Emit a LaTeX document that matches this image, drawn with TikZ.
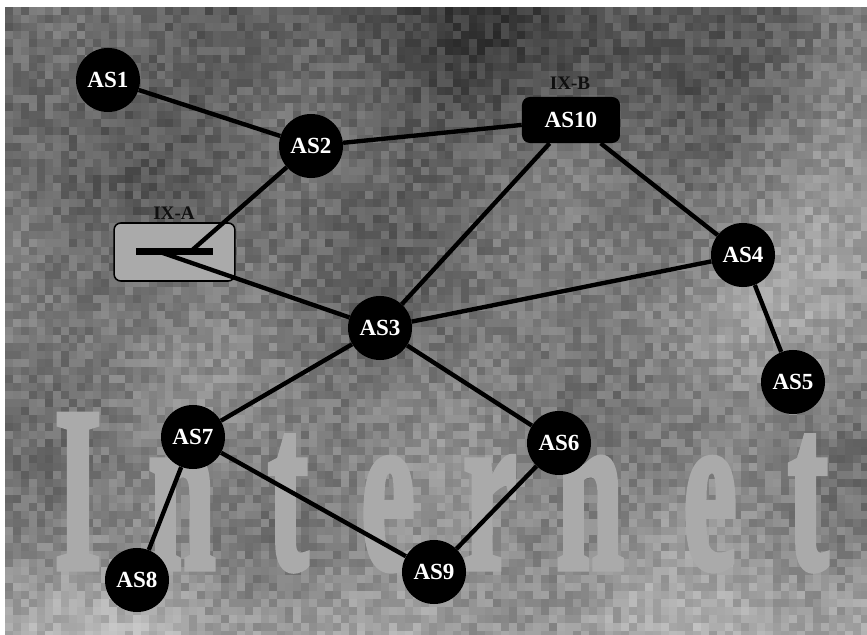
\documentclass[tikz,border=0pt]{standalone}
\usepackage{fontspec}
\setmainfont{Liberation Serif}
\newfontfamily\wordfont[BoldFeatures={FakeBold=3}]{Liberation Serif}
\usepackage{graphicx}
\definecolor{ixgray}{RGB}{170,170,170}
\definecolor{wordgray}{RGB}{170,170,170}
\definecolor{labelink}{RGB}{15,15,15}
\pgfdeclarelayer{bg}
\pgfdeclarelayer{links}
\pgfsetlayers{bg,links,main}

\begin{document}
\begin{tikzpicture}[x=0.025cm,y=-0.025cm,
  as/.style={circle,fill=black,minimum size=1.6cm,inner sep=0pt,
    text=white,font=\fontsize{16.4}{18}\selectfont\bfseries},
  asbox/.style={rectangle,rounded corners=0.2cm,fill=black,minimum width=2.45cm,
    minimum height=1.15cm,inner sep=0pt,text=white,font=\fontsize{16.4}{18}\selectfont\bfseries},
  ixbox/.style={rectangle,rounded corners=0.17cm,fill=ixgray,draw=black,line width=1.1pt,
    minimum width=3.02cm,minimum height=1.45cm,inner sep=0pt},
  ixlabel/.style={text=labelink,inner sep=0pt,font=\fontsize{13.6}{15}\selectfont\bfseries},
  letter/.style={anchor=base,inner sep=0pt,text=wordgray,font=\wordfont\fontsize{166}{170}\selectfont\bfseries},
  link/.style={line width=3.1pt}]
  \useasboundingbox (0,0) rectangle (867,635);

  % Grainy backdrop and the big word
  \begin{pgfonlayer}{bg}
    \fill[white] (0,0) rectangle (867,635);
    \pgfmathsetseed{42}
    \begin{scope}
      \clip (5,7) rectangle (867,635);
      \foreach \i in {0,...,107} {
        \pgfmathsetmacro\cx{5+8*\i}
        \pgfmathsetmacro\fa{38*exp(max(-9,0-((\cx-840)/120)^2))}
        \pgfmathsetmacro\fb{25*exp(max(-9,0-((\cx-470)/200)^2))}
        \pgfmathsetmacro\fc{28*exp(max(-9,0-((\cx-680)/110)^2))}
        \foreach \j in {0,...,78} {
          \pgfmathsetmacro\cy{7+8*\j}
          \pgfmathsetmacro\v{95+0.07*\cy+\fa*exp(max(-9,0-((\cy-180)/170)^2))-\fb*exp(max(-9,0-((\cy-40)/100)^2))+\fc*exp(max(-9,0-((\cy-330)/70)^2))+26*exp(max(-9,0-((\cy-640)/70)^2))+10*sin(1.3*\cx+0.5*\cy)+9*sin(0.45*\cx-1.1*\cy+40)+40*(rnd-0.5)}
          \pgfmathtruncatemacro\p{max(8,min(85,100-\v/2.55))}
          \fill[black!\p] (\cx,\cy) rectangle ++(8.6,8.6);
        }
      }
    \end{scope}
    \foreach \c/\px in {I/78,n/182,t/288,e/388,r/490,n/590,e/710,t/808}
      \node[letter] (w\px) at (\px,568) {\scalebox{0.52}[1]{\c}};
    % exchange point A
    \node[ixbox] (ixa) at (174.5,252) {};
  \end{pgfonlayer}

  \draw[line width=0.175cm] (136,252) -- (213,252);
  \coordinate (ixa-up) at (190,252);
  \coordinate (ixa-dn) at (160,252);
  \node[ixlabel] (ixa-lbl) at (174,213) {IX-A};
  \node[ixlabel] (ixb-lbl) at (570,83) {IX-B};

  % Autonomous systems
  \node[as] (as1) at (108,80) {AS1};
  \node[as] (as2) at (311,146) {AS2};
  \node[asbox] (as10) at (571,120) {AS10};
  \node[as] (as4) at (743,255) {AS4};
  \node[as] (as5) at (793,382) {AS5};
  \node[as] (as3) at (380,328) {AS3};
  \node[as] (as7) at (193,437) {AS7};
  \node[as] (as6) at (559,443) {AS6};
  \node[as] (as9) at (434,572) {AS9};
  \node[as] (as8) at (137,580) {AS8};

  % Links
  \begin{pgfonlayer}{links}
    \draw[link] (as1) -- (as2);
    \draw[link] (as2) -- (as10);
    \draw[link] (as2) -- (ixa-up);
    \draw[link] (ixa-dn) -- (as3);
    \draw[link] (as10) -- (as3);
    \draw[link] (as10) -- (as4);
    \draw[link] (as3) -- (as4);
    \draw[link] (as4) -- (as5);
    \draw[link] (as3) -- (as7);
    \draw[link] (as3) -- (as6);
    \draw[link] (as7) -- (as8);
    \draw[link] (as7) -- (as9);
    \draw[link] (as6) -- (as9);
  \end{pgfonlayer}
\end{tikzpicture}
\end{document}
